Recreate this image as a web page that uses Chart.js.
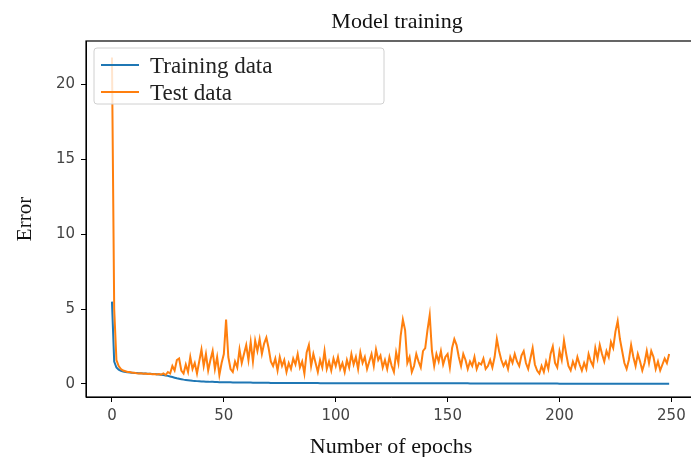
<!DOCTYPE html>
<html>
<head>
<meta charset="utf-8">
<script src="https://cdn.jsdelivr.net/npm/chart.js@4"></script>
<style>
  html, body { margin: 0; padding: 0; background: #fff; overflow: hidden; }
  /* the reference is cropped on the right, so the plot runs past the window */
  #wrap { width: 700px; height: 457px; }
</style>
</head>
<body>
<div id="wrap"><canvas id="trainingChart"></canvas></div>
<script>
// Error per epoch
const trainingError = [
    5.5, 1.5, 1.1, 0.95, 0.88, 0.83, 0.8, 0.78, 0.76, 0.75,
    0.74, 0.73, 0.72, 0.71, 0.7, 0.7, 0.69, 0.68, 0.67, 0.66,
    0.65, 0.64, 0.62, 0.6, 0.57, 0.54, 0.5, 0.46, 0.42, 0.38,
    0.35, 0.32, 0.29, 0.27, 0.25, 0.23, 0.21, 0.2, 0.19, 0.18,
    0.17, 0.16, 0.15, 0.15, 0.14, 0.14, 0.13, 0.13, 0.12, 0.12,
    0.12, 0.11, 0.11, 0.11, 0.1, 0.1, 0.1, 0.1, 0.09, 0.09,
    0.09, 0.09, 0.09, 0.08, 0.08, 0.08, 0.08, 0.08, 0.08, 0.08,
    0.08, 0.07, 0.07, 0.07, 0.07, 0.07, 0.07, 0.07, 0.07, 0.07,
    0.07, 0.06, 0.06, 0.06, 0.06, 0.06, 0.06, 0.06, 0.06, 0.06,
    0.06, 0.06, 0.06, 0.05, 0.05, 0.05, 0.05, 0.05, 0.05, 0.05,
    0.05, 0.05, 0.05, 0.05, 0.05, 0.05, 0.05, 0.05, 0.05, 0.05,
    0.05, 0.05, 0.05, 0.05, 0.05, 0.05, 0.05, 0.05, 0.05, 0.05,
    0.04, 0.04, 0.04, 0.04, 0.04, 0.04, 0.04, 0.04, 0.04, 0.04,
    0.04, 0.04, 0.04, 0.04, 0.04, 0.04, 0.04, 0.04, 0.04, 0.04,
    0.04, 0.04, 0.04, 0.04, 0.04, 0.04, 0.04, 0.04, 0.04, 0.04,
    0.04, 0.04, 0.04, 0.04, 0.04, 0.04, 0.04, 0.04, 0.04, 0.04,
    0.03, 0.03, 0.03, 0.03, 0.03, 0.03, 0.03, 0.03, 0.03, 0.03,
    0.03, 0.03, 0.03, 0.03, 0.03, 0.03, 0.03, 0.03, 0.03, 0.03,
    0.03, 0.03, 0.03, 0.03, 0.03, 0.03, 0.03, 0.03, 0.03, 0.03,
    0.03, 0.03, 0.03, 0.03, 0.03, 0.03, 0.03, 0.03, 0.03, 0.03,
    0.02, 0.02, 0.02, 0.02, 0.02, 0.02, 0.02, 0.02, 0.02, 0.02,
    0.02, 0.02, 0.02, 0.02, 0.02, 0.02, 0.02, 0.02, 0.02, 0.02,
    0.02, 0.02, 0.02, 0.02, 0.02, 0.02, 0.02, 0.02, 0.02, 0.02,
    0.02, 0.02, 0.02, 0.02, 0.02, 0.02, 0.02, 0.02, 0.02, 0.02,
    0.02, 0.02, 0.02, 0.02, 0.02, 0.02, 0.02, 0.02, 0.02, 0.02
];

const testError = [
    21.8, 5.0, 1.6, 1.2, 1.0, 0.9, 0.85, 0.8, 0.8, 0.75,
    0.75, 0.72, 0.7, 0.72, 0.68, 0.7, 0.66, 0.68, 0.65, 0.66,
    0.64, 0.66, 0.62, 0.7, 0.6, 0.8, 0.7, 1.2, 0.9, 1.6,
    1.7, 0.9, 0.7, 1.3, 0.8, 1.8, 1.0, 1.4, 0.7, 1.5,
    2.3, 1.2, 2.0, 0.9, 1.6, 2.2, 1.0, 1.8, 0.6, 1.4,
    2.0, 4.3, 1.8, 1.0, 0.8, 1.5, 1.1, 2.3, 1.4, 2.0,
    2.6, 1.6, 2.8, 1.5, 2.9, 2.2, 3.0, 2.0, 2.7, 3.1,
    2.4, 1.5, 1.2, 1.7, 0.9, 1.8, 1.2, 1.6, 0.8, 1.4,
    1.0, 1.7, 1.3, 2.0, 1.1, 1.5, 0.7, 2.1, 2.6, 1.2,
    2.0, 1.4, 0.8, 1.6, 1.1, 2.2, 1.0, 1.5, 0.9, 1.7,
    1.2, 1.8, 1.0, 1.4, 0.8, 1.6, 1.1, 2.0, 1.3, 1.8,
    1.0, 2.1, 1.4, 1.8, 1.0, 1.5, 2.0, 1.2, 2.3, 1.6,
    1.9, 1.1, 1.6, 1.0, 1.8, 1.2, 0.8, 2.1, 1.4, 3.2,
    4.3, 3.6, 1.4, 1.8, 0.8, 1.2, 2.0, 1.5, 1.1, 2.2,
    2.4, 3.6, 4.6, 2.2, 1.2, 2.0, 1.5, 2.2, 1.3, 1.8,
    2.0, 1.1, 2.4, 3.0, 2.6, 1.8, 1.2, 2.0, 1.6, 1.0,
    1.5, 1.2, 1.8, 1.0, 1.4, 1.3, 1.7, 1.0, 1.2, 1.6,
    1.1, 1.8, 3.0, 2.2, 1.6, 1.2, 1.5, 1.0, 1.8, 1.4,
    2.0, 1.5, 1.2, 1.9, 2.2, 1.4, 1.0, 1.7, 2.4, 1.3,
    0.9, 0.7, 1.2, 0.8, 1.5, 1.0, 2.0, 2.5, 1.4, 1.1,
    2.2, 1.6, 2.9, 2.0, 1.2, 0.9, 1.5, 1.1, 1.8, 1.3,
    0.9, 1.4, 1.0, 2.0, 1.5, 1.2, 2.4, 1.7, 2.6, 2.0,
    1.5, 2.2, 1.8, 2.8, 2.4, 3.5, 4.2, 3.0, 2.2, 1.4,
    1.0, 1.6, 2.6, 1.8, 1.2, 2.0, 1.5, 0.9, 1.4, 2.2,
    1.4, 2.2, 1.8, 1.0, 1.5, 0.9, 1.3, 1.7, 1.4, 2.0
];

// epoch index for each value
const epochs = trainingError.map((v, i) => i);

const xTicks = [0, 50, 100, 150, 200, 250];
const yTicks = [0, 5, 10, 15, 20];

const seriesNames = ['Training data', 'Test data'];
const seriesColors = ['#1f77b4', '#ff7f0e'];
const chartTitle = 'Model training';

const serif = "'Liberation Serif', 'DejaVu Serif', serif";
const sans = "'DejaVu Sans', sans-serif";

function toPoints(values) {
    return values.map((v, i) => ({ x: epochs[i], y: v }));
}

/**
 * Frame round the plot, the title over it and the legend box in its upper left corner
 */
const framePlugin = {
    id: 'frame',
    afterDatasetsDraw(chart) {
        const ctx = chart.ctx;
        const a = chart.chartArea;
        ctx.save();
        ctx.strokeStyle = '#000';
        ctx.lineWidth = 1.2;
        ctx.strokeRect(a.left, a.top, a.right - a.left, a.bottom - a.top);

        // title, centred over the full (cropped) axes
        ctx.fillStyle = '#111';
        ctx.font = '22px ' + serif;
        ctx.textAlign = 'center';
        ctx.textBaseline = 'middle';
        ctx.fillText(chartTitle, 397, 22);

        // legend box
        const bx = a.left + 8, by = a.top + 7, bw = 290, bh = 56;
        ctx.fillStyle = 'rgba(255,255,255,0.8)';
        ctx.strokeStyle = '#d0d0d0';
        ctx.lineWidth = 1;
        ctx.beginPath();
        ctx.roundRect(bx, by, bw, bh, 3);
        ctx.fill();
        ctx.stroke();

        ctx.font = '23px ' + serif;
        ctx.textBaseline = 'middle';
        ctx.textAlign = 'left';
        chart.data.datasets.forEach((ds, i) => {
            const y = by + 17 + i * 27;
            ctx.strokeStyle = ds.borderColor;
            ctx.lineWidth = 2;
            ctx.beginPath();
            ctx.moveTo(bx + 7, y);
            ctx.lineTo(bx + 45, y);
            ctx.stroke();
            ctx.fillStyle = '#222';
            ctx.fillText(ds.label, bx + 56, y + 2);
        });
        ctx.restore();
    }
};

const ctx = document.getElementById('trainingChart');
new Chart(ctx, {
    type: 'line',
    data: {
        datasets: [
            {
                label: seriesNames[0],
                data: toPoints(trainingError),
                borderColor: seriesColors[0],
                borderWidth: 2,
                pointRadius: 0,
                tension: 0,
                order: 1
            },
            {
                label: seriesNames[1],
                data: toPoints(testError),
                borderColor: seriesColors[1],
                borderWidth: 2,
                pointRadius: 0,
                tension: 0,
                order: 0
            }
        ]
    },
    options: {
        responsive: true,
        maintainAspectRatio: false,
        animation: false,
        layout: { padding: { left: 0, right: 4, top: 41, bottom: 0 } },
        plugins: {
            legend: { display: false },
            tooltip: { enabled: false },
            title: { display: false }
        },
        scales: {
            x: {
                type: 'linear',
                min: -11.6,
                max: 261,
                afterBuildTicks: scale => { scale.ticks = xTicks.map(v => ({ value: v })); },
                afterFit: scale => { scale.height = 60; },
                grid: { display: true, drawOnChartArea: false, drawTicks: true, tickLength: 5, color: '#000' },
                border: { display: true, color: '#000' },
                ticks: { color: '#444', font: { family: sans, size: 15 }, padding: 5, maxRotation: 0 },
                title: {
                    display: true,
                    text: 'Number of epochs',
                    color: '#111',
                    font: { family: serif, size: 22 },
                    padding: { top: 0, bottom: -3 }
                }
            },
            y: {
                min: -0.87,
                max: 22.9,
                afterBuildTicks: scale => { scale.ticks = yTicks.map(v => ({ value: v })); },
                afterFit: scale => { scale.width = 86; },
                grid: { display: true, drawOnChartArea: false, drawTicks: true, tickLength: 5, color: '#000' },
                border: { display: true, color: '#000' },
                ticks: { color: '#444', font: { family: sans, size: 15 }, padding: 6 },
                title: {
                    display: true,
                    text: 'Error',
                    color: '#111',
                    font: { family: serif, size: 21 },
                    padding: { top: 13, bottom: 16 }
                }
            }
        }
    },
    plugins: [framePlugin]
});
</script>
</body>
</html>
